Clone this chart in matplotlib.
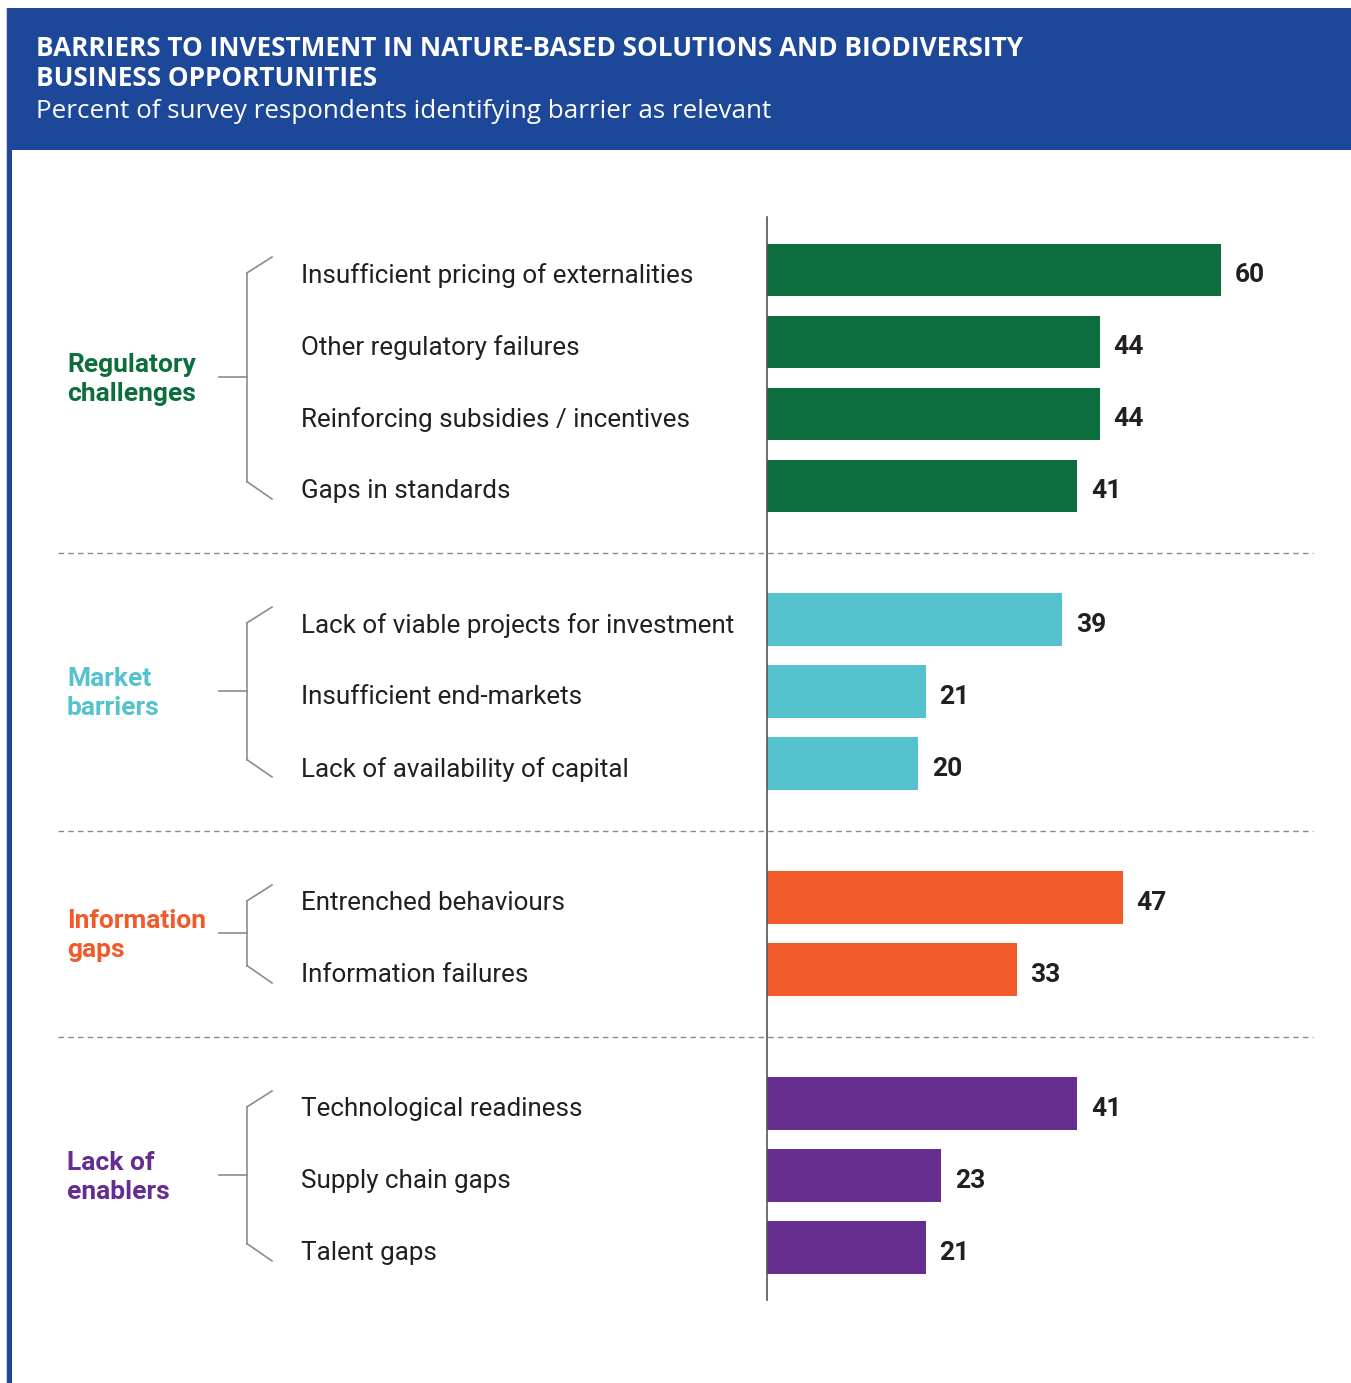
import matplotlib.pyplot as plt
from matplotlib.patches import Rectangle
from matplotlib.transforms import blended_transform_factory
import numpy as np

# Data
groups = ['Regulatory\nchallenges', 'Market\nbarriers', 'Information\ngaps', 'Lack of\nenablers']
group_colors = ['#0C6E3C', '#54C3CE', '#F15A2B', '#662D91']
regulatory_labels = ['Insufficient pricing of externalities', 'Other regulatory failures',
                     'Reinforcing subsidies / incentives', 'Gaps in standards']
regulatory_values = [60, 44, 44, 41]
market_labels = ['Lack of viable projects for investment', 'Insufficient end-markets',
                 'Lack of availability of capital']
market_values = [39, 21, 20]
information_labels = ['Entrenched behaviours', 'Information failures']
information_values = [47, 33]
enablers_labels = ['Technological readiness', 'Supply chain gaps', 'Talent gaps']
enablers_values = [41, 23, 21]

group_labels = [regulatory_labels, market_labels, information_labels, enablers_labels]
group_values = [regulatory_values, market_values, information_values, enablers_values]

W, H = 1351, 1383
fig = plt.figure(figsize=(W / 100, H / 100), dpi=100)
fig.patch.set_facecolor('white')

# decoration axes in pixel coordinates
deco = fig.add_axes([0, 0, 1, 1])
deco.set_xlim(0, W)
deco.set_ylim(H, 0)
deco.axis('off')

blue = '#1D4799'
deco.add_patch(Rectangle((8, 8), W - 8, 142, facecolor=blue, edgecolor='none'))
deco.add_patch(Rectangle((7, 8), 5, H, facecolor=blue, edgecolor='none'))
deco.plot([6, 6], [8, H], color='#c8cdd8', lw=0.8)

title_lines = ['BARRIERS TO INVESTMENT IN NATURE-BASED SOLUTIONS AND BIODIVERSITY',
               'BUSINESS OPPORTUNITIES']
for i, line in enumerate(title_lines):
    deco.text(36, 49 + 29 * i, line, color='white', fontsize=18.8, fontweight='bold',
              family='Open Sans', va='center', ha='left')
deco.text(36, 111, 'Percent of survey respondents identifying barrier as relevant',
          color='white', fontsize=18.7, family='Open Sans', va='center', ha='left')

# bar axes: left edge at x=767px, 7.57 px per unit
px_per_unit = 7.57
left_px, top_px, bottom_px = 767, 217, 1300
ax = fig.add_axes([left_px / W, 1 - bottom_px / H, (W - left_px) / W, (bottom_px - top_px) / H])
ax.set_xlim(0, (W - left_px) / px_per_unit)

# row positions: 1 unit per row, extra gap between groups
gap = 1.861
positions = []
y = 0.0
for gi, labs in enumerate(group_labels):
    pos = []
    for _ in labs:
        pos.append(y)
        y += 1
    y += gap - 1
    positions.append(pos)

row_px = 72
first_row_px = 270
ax.set_ylim((bottom_px - first_row_px) / row_px, (top_px - first_row_px) / row_px)
ax.axis('off')
ax.plot([0, 0], [(top_px - first_row_px) / row_px, (bottom_px - first_row_px) / row_px],
        color='#555555', lw=1.2, clip_on=False)

trans = blended_transform_factory(deco.transData, ax.transData)
text_color = '#231F20'
dy = 0.07

for gi in range(len(groups)):
    pos = positions[gi]
    vals = group_values[gi]
    col = group_colors[gi]
    ax.barh(pos, vals, height=0.736, color=col, edgecolor='none')
    for p, v, lab in zip(pos, vals, group_labels[gi]):
        ax.text(v + 1.8, p + dy, str(v), va='center', ha='left', fontsize=19,
                fontweight='bold', color=text_color, family='Roboto')
        ax.text(301, p + dy, lab, transform=trans, va='center', ha='left', fontsize=18.7,
                color=text_color, family='Roboto')
    # bracket
    y0, y1 = pos[0] + 0.04, pos[-1] - 0.06
    mid = (y0 + y1) / 2
    bc = '#8c8c8c'
    ax.plot([247, 247], [y0, y1], color=bc, lw=1.2, transform=trans, clip_on=False)
    ax.plot([247, 272], [y0, y0 - 0.22], color=bc, lw=1.2, transform=trans, clip_on=False)
    ax.plot([247, 272], [y1, y1 + 0.24], color=bc, lw=1.2, transform=trans, clip_on=False)
    ax.plot([219, 247], [mid, mid], color=bc, lw=1.2, transform=trans, clip_on=False)
    ax.text(67, np.mean(pos) + 0.02, groups[gi], transform=trans, va='center', ha='left',
            fontsize=19, fontweight='bold', color=col, family='Roboto', linespacing=1.3)
    # separator
    if gi < len(groups) - 1:
        sy = pos[-1] + 0.875 + 0.05
        ax.plot([58, 1313], [sy, sy], color='#8a8a8a', lw=1, ls=(0, (4, 3)),
                transform=trans, clip_on=False)

fig.savefig('out.png', dpi=100)
